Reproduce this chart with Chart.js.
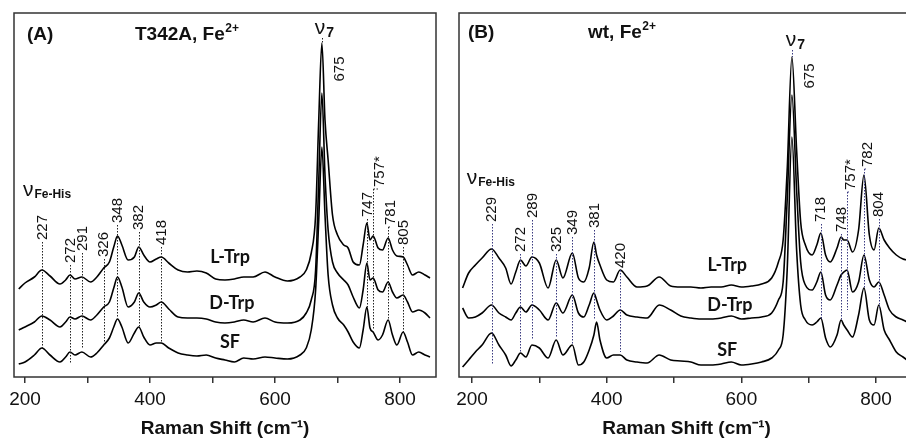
<!DOCTYPE html>
<html>
<head>
<meta charset="utf-8">
<script src="https://cdn.jsdelivr.net/npm/chart.js@4.4.0/dist/chart.umd.min.js"></script>
<style>
  body { margin: 0; width: 906px; height: 440px; overflow: hidden; background: #fff; position: relative; }
  canvas { position: absolute; top: 0; }
  #chartA { left: 0; }
  #chartB { left: 450px; }
</style>
</head>
<body>
<canvas id="chartA" width="450" height="440"></canvas>
<canvas id="chartB" width="470" height="440"></canvas>
<script>
// Raman shift (cm-1) sampled along the spectra, panel A (T342A)
const shiftA = [190,200,215,227,240,256,265,272,280,291,305,315,326,335,342,348,355,365,375,382,390,400,410,418,430,445,460,475,490,505,520,535,550,565,584,600,620,640,650,658,665,670,675,680,685,692,700,710,717,725,735,741,747,752,757,765,772,781,788,795,805,812,820,830,840,848];
// intensities (offset, arbitrary units)
const lTrpA = [88,94,100,107,101,93,97,102,98,100,95,100,109,115,130,141,132,117,120,130,122,115,118,120,114,107,105,106,104,98,97,98,100,100,105,100,96,100,107,124,162,257,334,257,217,162,142,132,129,115,112,132,154,137,141,129,127,139,127,121,120,112,102,105,102,99];
const dTrpA = [47,50,55,61,57,50,55,60,58,61,57,62,70,75,89,100,90,70,75,84,75,70,72,75,68,60,59,59,58,55,54,55,57,55,59,55,54,57,64,77,107,197,284,202,147,115,104,97,92,80,69,87,114,97,99,87,85,95,85,79,82,75,65,67,64,59];
const sfA = [13,15,22,29,22,15,20,25,22,25,20,24,32,39,50,58,50,34,44,50,40,32,34,34,29,24,22,21,22,19,17,15,19,18,20,19,18,22,29,47,87,157,230,162,102,72,59,52,45,35,29,47,70,49,45,37,42,57,42,32,45,35,22,25,22,20];

// panel B (wt)
const shiftB = [186,195,205,215,229,240,250,258,265,272,280,289,300,313,325,335,349,358,366,374,381,385,390,400,410,420,430,445,460,478,495,510,525,540,555,570,585,600,615,630,645,655,662,668,675,682,688,695,705,712,718,725,732,742,748,752,757,765,774,782,790,797,804,812,820,830,840,846];
const lTrpB = [89,104,112,119,128,119,109,93,105,117,111,120,114,89,117,99,124,99,95,109,135,122,112,97,95,107,100,90,91,100,91,90,90,89,90,90,92,90,91,93,99,115,137,207,320,227,155,132,122,132,144,122,115,129,140,137,137,125,147,202,142,127,149,137,129,122,118,117];
const dTrpB = [69,59,60,64,72,64,60,57,64,70,65,72,67,57,74,64,82,64,60,72,84,77,67,57,61,67,62,60,59,72,67,61,59,58,58,59,61,58,59,60,64,77,95,177,282,187,115,92,87,95,105,82,77,92,102,105,107,85,95,122,97,90,95,82,67,60,57,55];
const sfB = [10,17,25,32,44,32,22,11,17,24,20,32,29,19,37,22,32,12,15,27,42,55,37,19,22,22,17,15,14,22,17,16,15,12,12,13,15,12,13,15,19,27,42,107,240,127,72,57,52,55,59,39,30,42,57,52,47,40,62,89,57,52,72,47,37,25,20,17];

const tickValues = [200, 300, 400, 500, 600, 700, 800];

// marked bands
const peaksA = [227, 272, 291, 326, 348, 382, 418, 747, 757, 781, 805];
const peakTextA = ['227', '272', '291', '326', '348', '382', '418', '747', '757*', '781', '805'];
const peaksB = [229, 272, 289, 325, 349, 381, 420, 718, 748, 757, 782, 804];
const peakTextB = ['229', '272', '289', '325', '349', '381', '420', '718', '748', '757*', '782', '804'];

const FONT = '"Liberation Sans", Arial, sans-serif';

function drawNu(ctx, px, py, sub, subSize) {
  ctx.font = '21px ' + FONT;
  ctx.textAlign = 'center';
  ctx.textBaseline = 'middle';
  ctx.fillText('ν', px, py);
  const w = ctx.measureText('ν').width;
  ctx.font = 'bold ' + subSize + 'px ' + FONT;
  ctx.textAlign = 'left';
  ctx.fillText(sub, px + w / 2 + 1, py + 5);
}

const annotate = {
  id: 'annotate',
  afterDatasetsDraw(chart, args, o) {
    const { ctx, chartArea: a, scales: { x, y } } = chart;
    ctx.save();
    ctx.fillStyle = '#111';

    // dotted band markers
    ctx.lineWidth = 1;
    ctx.strokeStyle = o.dotColor;
    ctx.setLineDash([1.5, 1.5]);
    o.peaks.forEach((p, i) => {
      const px = Math.round(x.getPixelForValue(p)) + 0.5;
      const top = y.getPixelForValue(o.labelEnd[i]) + 2;
      ctx.beginPath();
      ctx.moveTo(px, top);
      ctx.lineTo(px, y.getPixelForValue(o.lineEnd[i]));
      if (o.labelDx[i]) { ctx.moveTo(px, top); ctx.lineTo(px + o.labelDx[i], top); }
      ctx.stroke();
    });
    const nx = Math.round(x.getPixelForValue(675)) + 0.5;
    ctx.beginPath();
    ctx.moveTo(nx, y.getPixelForValue(o.nu7Line[0]));
    ctx.lineTo(nx, y.getPixelForValue(o.nu7Line[1]));
    ctx.stroke();
    ctx.setLineDash([]);

    // rotated band labels
    ctx.font = '15px ' + FONT;
    ctx.textAlign = 'left';
    ctx.textBaseline = 'middle';
    o.peaks.forEach((p, i) => {
      ctx.save();
      ctx.translate(x.getPixelForValue(p) + o.labelDx[i] + 0.5, y.getPixelForValue(o.labelEnd[i]));
      ctx.rotate(-Math.PI / 2);
      ctx.fillText(o.peakText[i], 0, 0);
      ctx.restore();
    });
    ctx.save();
    ctx.font = '15px ' + FONT;
    ctx.textAlign = 'center';
    ctx.translate(x.getPixelForValue(o.mainLabel[0]), y.getPixelForValue(o.mainLabel[1]));
    ctx.rotate(-Math.PI / 2);
    ctx.fillText('675', 0, 0);
    ctx.restore();

    drawNu(ctx, x.getPixelForValue(o.nu7[0]), y.getPixelForValue(o.nu7[1]), '7', 14);
    drawNu(ctx, x.getPixelForValue(o.nuFe[0]), y.getPixelForValue(o.nuFe[1]), 'Fe-His', 12);

    // trace names
    ctx.font = 'bold 18px Lato, "Open Sans", sans-serif';
    ctx.textAlign = 'center';
    o.traceLabels.forEach(t => ctx.fillText(t[2], x.getPixelForValue(t[0]), y.getPixelForValue(t[1])));

    // panel titles
    ctx.font = 'bold 19px ' + FONT;
    ctx.textAlign = 'left';
    const ty = a.top + o.titleDy;
    ctx.fillText(o.tag, a.left + o.tagDx, ty);
    ctx.fillText(o.title, a.left + o.titleDx, ty);
    const tw = ctx.measureText(o.title).width;
    ctx.font = 'bold 12px ' + FONT;
    ctx.fillText('2+', a.left + o.titleDx + tw + 0.5, ty - 6);

    // frame
    ctx.strokeStyle = '#333';
    ctx.lineWidth = 1.5;
    ctx.strokeRect(a.left, a.top, a.right - a.left, a.bottom - a.top);
    ctx.restore();
  }
};

function makePanel(id, shift, series, range, padding, ann) {
  const datasets = series.map(s => ({
    data: s.map((v, i) => ({ x: shift[i], y: v })),
    borderColor: '#000',
    borderWidth: 1.6,
    pointRadius: 0,
    cubicInterpolationMode: 'monotone',
    fill: false
  }));
  return new Chart(document.getElementById(id), {
    type: 'line',
    data: { datasets },
    plugins: [annotate],
    options: {
      responsive: false,
      animation: false,
      layout: { padding },
      plugins: { legend: { display: false }, tooltip: { enabled: false }, annotate: ann },
      scales: {
        x: {
          type: 'linear',
          min: range[0],
          max: range[1],
          afterBuildTicks: s => { s.ticks = tickValues.map(v => ({ value: v })); },
          afterFit: s => { s.height = 63; },
          ticks: {
            callback: v => (v % 200 === 0 ? String(v) : ''),
            font: { family: 'Liberation Sans', size: 19 },
            color: '#111',
            padding: 5,
            maxRotation: 0,
            autoSkip: false
          },
          grid: { drawOnChartArea: false, tickLength: 6, color: '#333', lineWidth: 1.5 },
          border: { display: false },
          title: {
            display: true,
            text: 'Raman Shift (cm⁻¹)',
            font: { family: 'Liberation Sans', size: 19, weight: 'bold' },
            color: '#111',
            padding: { top: 0, bottom: 0 }
          }
        },
        y: { display: false, min: 0, max: 364 }
      }
    }
  });
}

makePanel('chartA', shiftA, [lTrpA, dTrpA, sfA], [182.4, 857.6],
  { left: 14, right: 14, top: 13, bottom: 0 },
  {
    peaks: peaksA, peakText: peakTextA,
    labelEnd: [137, 114, 126, 120, 154, 147, 132, 160, 190, 152, 132],
    lineEnd: [29, 14, 29, 32, 59, 49, 34, 70, 47, 57, 45],
    labelDx: [0, 0, 0, 0, 0, 0, 0, 0, 6, 2, 0],
    dotColor: '#222',
    nu7: [672, 349], nu7Line: [339, 334],
    mainLabel: [704, 308],
    nuFe: [205, 187],
    traceLabels: [[528, 120, 'L-Trp'], [531, 74, 'D-Trp'], [528, 35, 'SF']],
    tag: '(A)', title: 'T342A, Fe', tagDx: 13, titleDx: 121, titleDy: 22
  });

makePanel('chartB', shiftB, [lTrpB, dTrpB, sfB], [180.7, 856.3],
  { left: 9, right: 6, top: 13, bottom: 0 },
  {
    peaks: peaksB, peakText: peakTextB,
    labelEnd: [155, 125, 159, 125, 142, 149, 109, 155, 145, 187, 210, 160],
    lineEnd: [12, 25, 37, 39, 32, 57, 25, 57, 57, 67, 89, 70],
    labelDx: [0, 0, 0, 0, 0, 0, 0, 0, 0, 3, 3, 0],
    dotColor: '#3a3a80',
    nu7: [673.6, 337], nu7Line: [327, 320],
    mainLabel: [702, 301],
    nuFe: [200, 199],
    traceLabels: [[579, 112, 'L-Trp'], [583, 72, 'D-Trp'], [579, 27, 'SF']],
    tag: '(B)', title: 'wt, Fe', tagDx: 9, titleDx: 129, titleDy: 20
  });
</script>
</body>
</html>
